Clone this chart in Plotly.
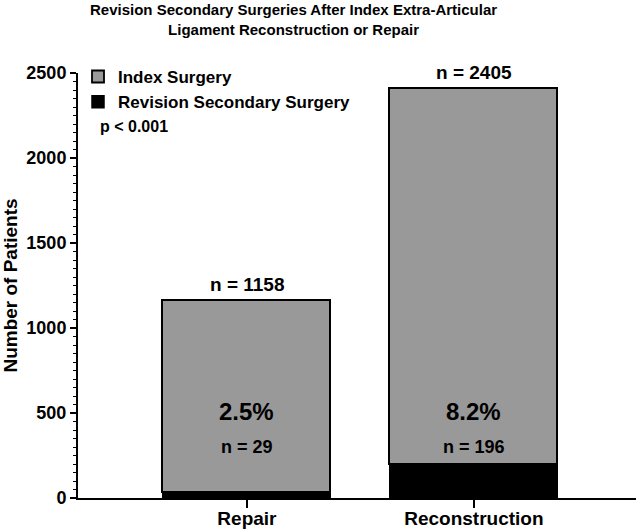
import plotly.graph_objects as go

categories = ["Repair", "Reconstruction"]
totals = [1158, 2405]
revision = [29, 196]
index_only = [t - r for t, r in zip(totals, revision)]
pct_labels = ["2.5%", "8.2%"]
yticks = [0, 500, 1000, 1500, 2000, 2500]

FONT = "Liberation Sans"
xpos = [0, 1]

fig = go.Figure()
fig.add_trace(go.Bar(
    x=xpos, y=revision, name="Revision Secondary Surgery",
    marker=dict(color="#000000", line=dict(color="#000000", width=1.5)),
    width=0.74,
))
fig.add_trace(go.Bar(
    x=xpos, y=index_only, name="Index Surgery",
    marker=dict(color="#999999", line=dict(color="#000000", width=1.8)),
    width=0.74,
))

for i, x in enumerate(xpos):
    fig.add_annotation(x=x, y=totals[i], text=f"n = {totals[i]}", showarrow=False,
                       yanchor="bottom", yshift=4,
                       font=dict(family=FONT, size=19, color="black", weight="bold"))
    fig.add_annotation(x=x, y=508, text=pct_labels[i], showarrow=False,
                       font=dict(family=FONT, size=24, color="black", weight="bold"))
    fig.add_annotation(x=x, y=300, text=f"n = {revision[i]}", showarrow=False,
                       font=dict(family=FONT, size=18, color="black", weight="bold"))

fig.add_annotation(xref="paper", yref="paper", x=0.035, y=0.875, text="p < 0.001",
                   showarrow=False, xanchor="left", yanchor="middle",
                   font=dict(family=FONT, size=16, color="black", weight="bold"))

fig.add_annotation(xref="paper", yref="paper", x=(293 - 78) / 558, y=1 + 74 / 425,
                   xanchor="center", yanchor="top", showarrow=False,
                   text="Revision Secondary Surgeries After Index Extra-Articular<br>Ligament Reconstruction or Repair",
                   font=dict(family=FONT, size=15, color="black", weight="bold"))

fig.update_layout(
    template="none",
    width=636, height=529,
    barmode="stack",
    plot_bgcolor="white", paper_bgcolor="white",
    margin=dict(l=78, r=0, t=73, b=31, autoexpand=False),
    legend=dict(x=0.0, y=1.033, xanchor="left", yanchor="top", traceorder="reversed",
                font=dict(family=FONT, size=17, color="black", weight="bold"),
                bgcolor="rgba(0,0,0,0)", itemwidth=30, tracegroupgap=0),
    showlegend=True,
    bargap=0,
)
fig.update_xaxes(
    range=[-0.744, 1.714], tickvals=xpos, ticktext=categories, automargin=False,
    showline=True, linecolor="black", linewidth=2, showgrid=False, zeroline=False,
    ticks="outside", ticklen=8, tickwidth=2, tickcolor="black",
    ticklabelstandoff=-6,
    tickfont=dict(family=FONT, size=19, color="black", weight="bold"),
)
fig.update_yaxes(
    range=[0, 2500], tickvals=yticks, automargin=False,
    showline=True, linecolor="black", linewidth=2, showgrid=False, zeroline=False,
    ticks="outside", ticklen=6, tickwidth=2, tickcolor="black",
    minor=dict(dtick=50, ticks="outside", ticklen=3, tickwidth=1, tickcolor="black", showgrid=False),
    tickfont=dict(family=FONT, size=18, color="black", weight="bold"),
    title=dict(text="Number of Patients", standoff=10,
               font=dict(family=FONT, size=19, color="black", weight="bold")),
)

fig.write_html("out.html", config={"displayModeBar": False},
               post_script="document.body.style.margin='0';")
